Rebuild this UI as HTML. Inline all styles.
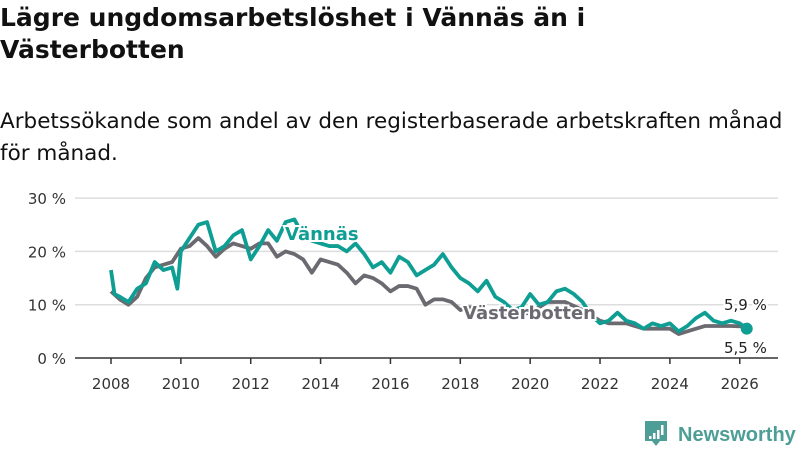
<!DOCTYPE html>
<html><head><meta charset="utf-8"><style>
body{margin:0;width:800px;height:450px;background:#fff;font-family:"Liberation Sans","DejaVu Sans",sans-serif;overflow:hidden;position:relative}
h1{position:absolute;left:0;top:2px;margin:0;font-size:25px;line-height:32px;font-weight:bold;color:#111;font-family:"DejaVu Sans","Liberation Sans",sans-serif}
p.sub{position:absolute;left:0;top:106px;margin:0;font-size:21.5px;line-height:32px;color:#111;font-family:"DejaVu Sans","Liberation Sans",sans-serif}
svg{position:absolute;left:0;top:0}
</style></head><body>
<h1>Lägre ungdomsarbetslöshet i Vännäs än i<br>Västerbotten</h1>
<p class="sub">Arbetssökande som andel av den registerbaserade arbetskraften månad<br>för månad.</p>
<svg id="c" width="800" height="450"></svg>
<script>
const vannasX=[2008,2008.1,2008.25,2008.5,2008.75,2009,2009.25,2009.5,2009.75,2009.9,2010,2010.25,2010.5,2010.75,2011,2011.25,2011.5,2011.75,2012,2012.25,2012.5,2012.75,2013,2013.25,2013.5,2013.75,2014,2014.25,2014.5,2014.75,2015,2015.25,2015.5,2015.75,2016,2016.25,2016.5,2016.75,2017,2017.25,2017.5,2017.75,2018,2018.25,2018.5,2018.75,2019,2019.25,2019.5,2019.75,2020,2020.25,2020.5,2020.75,2021,2021.25,2021.5,2021.75,2022,2022.25,2022.5,2022.75,2023,2023.25,2023.5,2023.75,2024,2024.25,2024.5,2024.75,2025,2025.25,2025.5,2025.75,2026,2026.2];
const vannasY=[16.5,12,11.5,10.5,13,14,18,16.5,17,13,20,22.5,25,25.5,20,21,23,24,18.5,21,24,22,25.5,26,23,22,21.5,21,21,20,21.5,19.5,17,18,16,19,18,15.5,16.5,17.5,19.5,17,15,14,12.5,14.5,11.5,10.5,9,9.5,12,10,10.5,12.5,13,12,10.5,8,6.5,7,8.5,7,6.5,5.5,6.5,6,6.5,5,6,7.5,8.5,7,6.5,7,6.5,5.5];
const vbX=[2008,2008.25,2008.5,2008.75,2009,2009.25,2009.5,2009.75,2010,2010.25,2010.5,2010.75,2011,2011.25,2011.5,2011.75,2012,2012.25,2012.5,2012.75,2013,2013.25,2013.5,2013.75,2014,2014.25,2014.5,2014.75,2015,2015.25,2015.5,2015.75,2016,2016.25,2016.5,2016.75,2017,2017.25,2017.5,2017.75,2018,2018.25,2018.5,2019,2019.5,2020,2020.5,2021,2021.5,2022,2022.25,2022.5,2022.75,2023,2023.25,2023.5,2023.75,2024,2024.25,2024.5,2024.75,2025,2025.25,2025.5,2025.75,2026.2];
const vbY=[12.5,11,10,11.5,15,17,17.5,18,20.5,21,22.5,21,19,20.5,21.5,21,20.5,21.5,21.5,19,20,19.5,18.5,16,18.5,18,17.5,16,14,15.5,15,14,12.5,13.5,13.5,13,10,11,11,10.5,9,9.5,9.5,8,8,8.5,10.5,10.5,9,7,6.5,6.5,6.5,6,5.5,5.5,5.5,5.5,4.5,5,5.5,6,6,6,6,5.9];
const yTicks=[0,10,20,30];
const xTicks=[2008,2010,2012,2014,2016,2018,2020,2022,2024,2026];
const NS='http://www.w3.org/2000/svg';
const svg=document.getElementById('c');
const X=v=>111+(v-2008)*34.93;
const Y=v=>358-v*5.33;
function mk(t,a){const e=document.createElementNS(NS,t);for(const k in a)e.setAttribute(k,a[k]);svg.appendChild(e);return e;}
yTicks.forEach(t=>{
  if(t>0){const g=mk('line',{x1:75,x2:778,y1:Y(t),y2:Y(t),stroke:'#dddddd','stroke-width':1.5});
  
  }
  const l=mk('text',{x:66,y:Y(t)+6,'text-anchor':'end','font-size':15,fill:'#333','font-family':'DejaVu Sans, sans-serif'});
  l.textContent=t+' %';
  
  
});
const ax=mk('line',{x1:75,x2:778,y1:358,y2:358,stroke:'#333','stroke-width':1.5});


xTicks.forEach(t=>{
  mk('line',{x1:X(t),x2:X(t),y1:358,y2:364,stroke:'#333','stroke-width':1.5});
  const l=mk('text',{x:X(t),y:389,'text-anchor':'middle','font-size':15,fill:'#333','font-family':'DejaVu Sans, sans-serif'});
  l.textContent=t;
  
  
});
function line(xs,ys,col,name){
  const p=mk('polyline',{points:xs.map((x,i)=>X(x)+','+Y(ys[i])).join(' '),fill:'none',stroke:col,'stroke-width':3.8,'stroke-linejoin':'round'});
  
  
}
line(vbX,vbY,'#6b6a70','vasterbotten-line');
line(vannasX,vannasY,'#0e9e93','vannas-line');
const d=mk('circle',{cx:X(vannasX[vannasX.length-1]),cy:Y(vannasY[vannasY.length-1]),r:6,fill:'#0e9e93'});


function lab(x,y,t,col,name,size,bold,halo){
  const e=mk('text',{x:x,y:y,'font-size':size,fill:col,'font-weight':bold?'bold':'normal','font-family':'DejaVu Sans, sans-serif'});
  if(halo){e.setAttribute('stroke','#fff');e.setAttribute('stroke-width',4);e.setAttribute('paint-order','stroke');}
  e.textContent=t;
  
  
}
lab(285,240,'Vännäs','#0e9e93','vannas-label',18,true,true);
lab(463,319,'Västerbotten','#6b6a70','vasterbotten-label',18,true,true);
lab(724,310,'5,9 %','#222','vasterbotten-end-value',15,false,true);
lab(724,353,'5,5 %','#222','vannas-end-value',15,false,true);
const g=mk('g',{});


const r=document.createElementNS(NS,'path');r.setAttribute('d','M645 421h22v20h-7l-4 5l-4-5h-7z');r.setAttribute('fill','#4c9e96');g.appendChild(r);
[[649,436,3],[653,433,6],[657,430,9]].forEach(a=>{const b=document.createElementNS(NS,'rect');b.setAttribute('x',a[0]);b.setAttribute('y',a[1]);b.setAttribute('width',2.5);b.setAttribute('height',a[2]);b.setAttribute('fill','#fff');g.appendChild(b);});
const b2=document.createElementNS(NS,'rect');b2.setAttribute('x',661);b2.setAttribute('y',425);b2.setAttribute('width',2.5);b2.setAttribute('height',10);b2.setAttribute('fill','#fff');g.appendChild(b2);
const t=document.createElementNS(NS,'text');t.setAttribute('x',678);t.setAttribute('y',441);t.setAttribute('font-size',20);t.setAttribute('font-weight','bold');t.setAttribute('fill','#4c9e96');t.setAttribute('font-family','Liberation Sans, sans-serif');t.textContent='Newsworthy';g.appendChild(t);
svg.appendChild(g);
</script>
</body></html>
